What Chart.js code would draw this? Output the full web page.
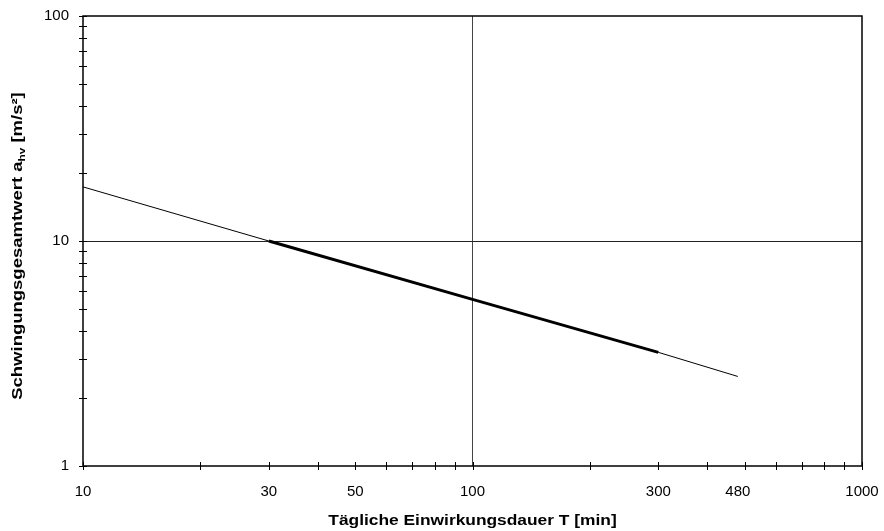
<!DOCTYPE html>
<html>
<head>
<meta charset="utf-8">
<script src="https://cdn.jsdelivr.net/npm/chart.js@4/dist/chart.umd.min.js"></script>
<style>
  html, body { margin: 0; padding: 0; background: #fff; }
  #wrap { width: 884px; height: 531px; }
</style>
</head>
<body>
<div id="wrap"><canvas id="vibChart"></canvas></div>
<script>
// exposure time T [min] and vibration total value a_hv [m/s²]
const durations = [10, 30, 100, 300, 480];
const accelValues = [17.4, 10.0, 5.5, 3.2, 2.5];
// the bold part of the curve
const boldDurations = [30, 100, 300];
const boldAccelValues = [10.0, 5.5, 3.2];

const xTickMarks = [10, 20, 30, 40, 50, 60, 70, 80, 90, 100, 200, 300, 400, 500, 600, 700, 800, 900, 1000];
const xTickLabels = [10, 30, 50, 100, 300, 480, 1000];
const yTickMarks = [1, 2, 3, 4, 5, 6, 7, 8, 9, 10, 20, 30, 40, 50, 60, 70, 80, 90, 100];
const yTickLabels = [1, 10, 100];

const xTitle = "Tägliche Einwirkungsdauer T [min]";
const yTitle = ["Schwingungsgesamtwert a", "hv", " [m/s²]"];

const FONT = "'Liberation Sans', Arial, sans-serif";

function toPoints(xs, ys) {
  return xs.map((x, i) => ({ x: x, y: ys[i] }));
}

function allTicks(marks, labels) {
  const set = new Set(marks.concat(labels));
  return Array.from(set).sort((a, b) => a - b).map(v => ({ value: v }));
}

// frame, tick marks crossing the axes, axis titles (slightly widened like the original)
const framePlugin = {
  id: "frame",
  afterDraw(chart) {
    const { ctx, chartArea: a, scales } = chart;
    ctx.save();
    ctx.strokeStyle = "#000";
    ctx.lineWidth = 1.5;
    ctx.strokeRect(a.left, a.top, a.right - a.left, a.bottom - a.top);

    ctx.lineWidth = 1;
    ctx.beginPath();
    xTickMarks.forEach(v => {
      const px = Math.round(scales.x.getPixelForValue(v)) + 0.5;
      ctx.moveTo(px, a.bottom - 4);
      ctx.lineTo(px, a.bottom + 4);
    });
    yTickMarks.forEach(v => {
      const py = Math.round(scales.y.getPixelForValue(v)) + 0.5;
      ctx.moveTo(a.left - 4, py);
      ctx.lineTo(a.left + 4, py);
    });
    ctx.stroke();
    ctx.fillStyle = "#000";

    const main = "bold 14px " + FONT;
    const sub = "bold 9px " + FONT;

    // x axis title
    ctx.save();
    ctx.font = main;
    ctx.textAlign = "center";
    ctx.textBaseline = "middle";
    ctx.translate((a.left + a.right) / 2, 521);
    ctx.scale(1.24, 1);
    ctx.fillText(xTitle, 0, 0);
    ctx.restore();

    // y axis title with subscript
    ctx.save();
    ctx.font = main;
    const w1 = ctx.measureText(yTitle[0]).width;
    const w3 = ctx.measureText(yTitle[2]).width;
    ctx.font = sub;
    const w2 = ctx.measureText(yTitle[1]).width;
    const total = w1 + w2 + w3;
    ctx.translate(22, 246);
    ctx.rotate(-Math.PI / 2);
    ctx.scale(1.32, 1);
    ctx.textBaseline = "alphabetic";
    ctx.textAlign = "left";
    const x0 = -total / 2;
    ctx.font = main;
    ctx.fillText(yTitle[0], x0, 0);
    ctx.font = sub;
    ctx.fillText(yTitle[1], x0 + w1, 3);
    ctx.font = main;
    ctx.fillText(yTitle[2], x0 + w1 + w2, 0);
    ctx.restore();

    ctx.restore();
  }
};

new Chart(document.getElementById("vibChart"), {
  type: "line",
  data: {
    datasets: [
      {
        label: "a_hv",
        data: toPoints(durations, accelValues),
        borderColor: "#000",
        borderWidth: 1,
        pointRadius: 0,
        fill: false,
      },
      {
        label: "a_hv bold",
        data: toPoints(boldDurations, boldAccelValues),
        borderColor: "#000",
        borderWidth: 3,
        pointRadius: 0,
        fill: false,
      },
    ],
  },
  options: {
    responsive: true,
    maintainAspectRatio: false,
    animation: false,
    layout: { padding: { top: 16, right: 22, bottom: 4, left: 0 } },
    plugins: {
      legend: { display: false },
      tooltip: { enabled: false },
    },
    scales: {
      x: {
        type: "logarithmic",
        min: 10,
        max: 1000,
        afterBuildTicks(scale) {
          scale.ticks = allTicks(xTickMarks, xTickLabels);
        },
        afterFit(scale) {
          scale.height = 61;
          scale.paddingLeft = 0;
          scale.paddingRight = 0;
        },
        ticks: {
          autoSkip: false,
          maxRotation: 0,
          padding: 13,
          color: "#000",
          font: { family: FONT, size: 15 },
          callback: v => (xTickLabels.includes(v) ? String(v) : ""),
        },
        grid: {
          color: c => (c.tick && c.tick.value === 100 ? "#444" : "rgba(0,0,0,0)"),
          lineWidth: 1,
          tickLength: 4,
          tickColor: "rgba(0,0,0,0)",
        },
        border: { display: false },
      },
      y: {
        type: "logarithmic",
        min: 1,
        max: 100,
        afterBuildTicks(scale) {
          scale.ticks = allTicks(yTickMarks, yTickLabels);
        },
        afterFit(scale) {
          scale.width = 83;
          scale.paddingTop = 0;
          scale.paddingBottom = 0;
        },
        ticks: {
          autoSkip: false,
          padding: 10,
          color: "#000",
          font: { family: FONT, size: 15 },
          callback: v => (yTickLabels.includes(v) ? String(v) : ""),
        },
        grid: {
          color: c => (c.tick && c.tick.value === 10 ? "#222" : "rgba(0,0,0,0)"),
          lineWidth: 1,
          tickLength: 4,
          tickColor: "rgba(0,0,0,0)",
        },
        border: { display: false },
      },
    },
  },
  plugins: [framePlugin],
});
</script>
</body>
</html>
